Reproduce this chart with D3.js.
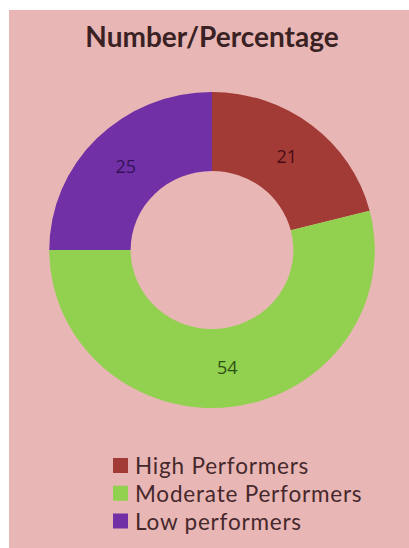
<!DOCTYPE html>
<html><head><meta charset="utf-8">
<script src="https://cdn.jsdelivr.net/npm/d3@7"></script>
<style>html,body{margin:0;padding:0;background:#fff;}svg{display:block;}</style>
</head><body>
<svg id="c" width="409" height="548"></svg>
<script>
const categories = ["High Performers", "Moderate Performers", "Low performers"];
const values = [21, 54, 25];
const colors = ["#a23b36", "#92d050", "#7130a6"];
const labelColors = ["#4a0c12", "#2c5212", "#36105a"];
const title = "Number/Percentage";

const svg = d3.select("#c");
svg.append("rect").attr("x", 9).attr("y", 10).attr("width", 400).attr("height", 538).attr("fill", "#e8b6b4");

svg.append("text").attr("x", 212).attr("y", 47).attr("text-anchor", "middle")
  .attr("font-family", "Lato").attr("font-weight", "bold").attr("font-size", 28)
  .attr("fill", "#3a2224").text(title);

const cx = 212, cy = 250, sx = 1.03, rOuter = 158, rInner = 79;
const pie = d3.pie().sort(null).value(d => d);
const arcs = pie(values);
const arc = d3.arc().innerRadius(rInner).outerRadius(rOuter);
const g = svg.append("g").attr("transform", `translate(${cx},${cy}) scale(${sx},1)`);
g.selectAll("path").data(arcs).join("path").attr("d", arc).attr("fill", (d, i) => colors[i]);

svg.selectAll("text.lbl").data(arcs).join("text").attr("class", "lbl")
  .attr("x", d => cx + arc.centroid(d)[0] * sx)
  .attr("y", d => cy + arc.centroid(d)[1])
  .attr("dy", "0.35em").attr("text-anchor", "middle")
  .attr("font-family", "Open Sans").attr("font-size", 18)
  .attr("fill", (d, i) => labelColors[i]).text(d => d.data);

const leg = svg.append("g");
const rowY = d3.scalePoint().domain(categories).range([466, 521.5]);
categories.forEach((c, i) => {
  leg.append("rect").attr("x", 113).attr("y", rowY(c) - 8).attr("width", 15).attr("height", 15).attr("fill", colors[i]);
  leg.append("text").attr("x", 135).attr("y", rowY(c)).attr("dy", "0.36em")
    .attr("font-family", "Lato").attr("font-size", 22.5).attr("letter-spacing", 0.8)
    .attr("fill", "#45282c").text(c);
});
</script>
</body></html>
